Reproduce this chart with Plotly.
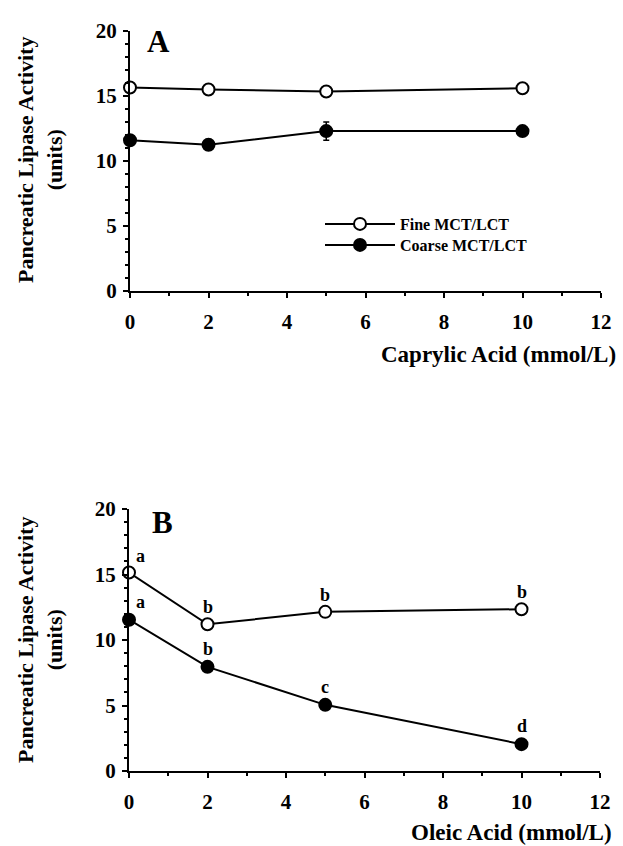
import plotly.graph_objects as go

# ---------------- data ----------------
conc = [0, 2, 5, 10]

# Panel A: Caprylic acid
a_fine = [15.65, 15.5, 15.35, 15.6]
a_fine_err = [0.2, 0.2, 0.2, 0.35]
a_coarse = [11.6, 11.25, 12.3, 12.3]
a_coarse_err = [0.25, 0.4, 0.7, 0.2]

# Panel B: Oleic acid
b_fine = [15.15, 11.2, 12.15, 12.35]
b_coarse = [11.55, 7.95, 5.05, 2.05]
b_fine_letters = ["a", "b", "b", "b"]
b_coarse_letters = ["a", "b", "c", "d"]

x_ticks = [0, 2, 4, 6, 8, 10, 12]
y_ticks = [0, 5, 10, 15, 20]
series_names = ["Fine MCT/LCT", "Coarse MCT/LCT"]

FONT = "Liberation Serif"
W, H = 623, 846

fig = go.Figure()

def add_series(x, y, err, name, filled, xa, ya, showlegend, legend="legend"):
    fig.add_trace(go.Scatter(
        x=x, y=y, name=name, mode="lines+markers",
        xaxis=xa, yaxis=ya, showlegend=showlegend, legend=legend, cliponaxis=False,
        line=dict(color="black", width=2),
        marker=dict(size=12, color="black" if filled else "white",
                    line=dict(color="black", width=2)),
        error_y=dict(type="data", array=err, visible=True,
                     color="black", thickness=1.5, width=3) if err is not None else None,
    ))

add_series(conc, a_fine, a_fine_err, series_names[0], False, "x", "y", True, "legend")
add_series(conc, a_coarse, a_coarse_err, series_names[1], True, "x", "y", True, "legend2")
add_series(conc, b_fine, None, series_names[0], False, "x2", "y2", False)
add_series(conc, b_coarse, None, series_names[1], True, "x2", "y2", False)

def xd(px0, px1):
    return [px0 / W, px1 / W]
def yd(top, bottom):
    return [1 - bottom / H, 1 - top / H]

TICKFONT = dict(family=FONT, size=21, color="black", weight="bold")
axis_common = dict(
    showline=True, linecolor="black", linewidth=2, showgrid=False, zeroline=False,
    ticks="outside", ticklen=5, tickwidth=1.5, tickcolor="black",
    tickfont=TICKFONT, automargin=False,
)
xaxis_common = dict(axis_common, range=[0, 12], tickvals=x_ticks,
                    minor=dict(dtick=1, tick0=0, ticks="outside", ticklen=3, tickcolor="black"),
                    ticklabelstandoff=6)
yaxis_common = dict(axis_common, range=[0, 20], tickvals=y_ticks,
                    minor=dict(dtick=1, tick0=0, ticks="outside", ticklen=3, tickcolor="black"),
                    ticklabelstandoff=2)

LEGFONT = dict(family=FONT, size=16, color="black", weight="bold")
fig.update_layout(
    width=W, height=H,
    margin=dict(l=0, r=0, t=0, b=0),
    paper_bgcolor="white", plot_bgcolor="white",
    font=dict(family=FONT, color="black"),
    xaxis=dict(xaxis_common, domain=xd(130, 601), anchor="y"),
    yaxis=dict(yaxis_common, domain=yd(31, 291), anchor="x"),
    xaxis2=dict(xaxis_common, domain=xd(129, 600), anchor="y2"),
    yaxis2=dict(yaxis_common, domain=yd(509, 771), anchor="x2"),
    legend=dict(x=320 / W, y=1 - 224 / H, xanchor="left", yanchor="middle",
                font=LEGFONT, itemwidth=70, bgcolor="rgba(0,0,0,0)"),
    legend2=dict(x=320 / W, y=1 - 245 / H, xanchor="left", yanchor="middle",
                 font=LEGFONT, itemwidth=70, bgcolor="rgba(0,0,0,0)"),
    showlegend=True,
)

ann = []
ann.append(dict(text="<b>A</b>", xref="paper", yref="paper", x=158 / W, y=1 - 42 / H,
                xanchor="center", yanchor="middle", showarrow=False, font=dict(family=FONT, size=31)))
ann.append(dict(text="<b>B</b>", xref="paper", yref="paper", x=162 / W, y=1 - 522 / H,
                xanchor="center", yanchor="middle", showarrow=False, font=dict(family=FONT, size=31)))
ann.append(dict(text="<b>Caprylic Acid (mmol/L)</b>", xref="paper", yref="paper",
                x=618 / W, y=1 - 354 / H, xanchor="right", yanchor="middle", showarrow=False,
                font=dict(family=FONT, size=23)))
ann.append(dict(text="<b>Oleic Acid (mmol/L)</b>", xref="paper", yref="paper",
                x=614 / W, y=1 - 832 / H, xanchor="right", yanchor="middle", showarrow=False,
                font=dict(family=FONT, size=23)))
for ymid in (160, 640):
    ann.append(dict(text="<b>Pancreatic Lipase Activity<br>(units)</b>", xref="paper", yref="paper",
                    x=40 / W, y=1 - ymid / H, xanchor="center", yanchor="middle",
                    textangle=-90, showarrow=False,
                    font=dict(family=FONT, size=22)))
for xi, yi, t in zip(conc, b_fine, b_fine_letters):
    ann.append(dict(text=f"<b>{t}</b>", x=xi, y=yi, xref="x2", yref="y2", showarrow=False,
                    xshift=11 if xi == 0 else 0, yshift=17, font=dict(family=FONT, size=18)))
for xi, yi, t in zip(conc, b_coarse, b_coarse_letters):
    ann.append(dict(text=f"<b>{t}</b>", x=xi, y=yi, xref="x2", yref="y2", showarrow=False,
                    xshift=11 if xi == 0 else 0, yshift=18, font=dict(family=FONT, size=18)))

fig.update_layout(annotations=ann)
fig.write_html("out.html", config={"displayModeBar": False},
               post_script="document.body.style.margin='0';document.body.style.overflow='hidden';")
